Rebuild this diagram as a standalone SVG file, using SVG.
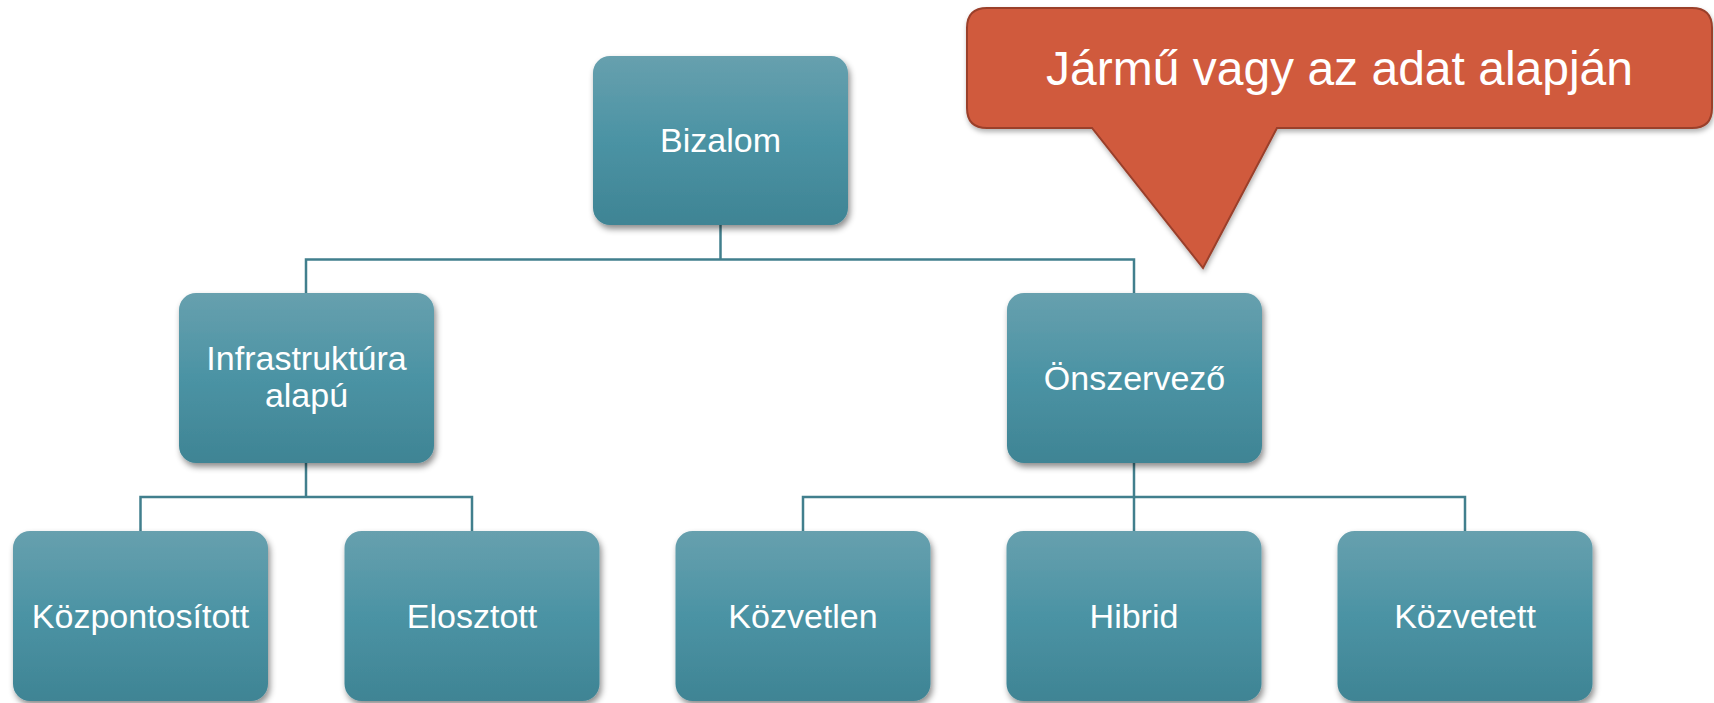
<svg xmlns="http://www.w3.org/2000/svg" width="1714" height="703" viewBox="0 0 1714 703">
  <defs>
    <linearGradient id="boxGrad" x1="0" y1="0" x2="0" y2="1">
      <stop offset="0" stop-color="#67A0AE"/>
      <stop offset="0.5" stop-color="#4B93A4"/>
      <stop offset="1" stop-color="#3F8494"/>
    </linearGradient>
    <filter id="shadow" x="-10%" y="-10%" width="125%" height="130%">
      <feDropShadow dx="2" dy="4" stdDeviation="3" flood-color="#000" flood-opacity="0.45"/>
    </filter>
    <filter id="shadow2" x="-5%" y="-10%" width="115%" height="130%">
      <feDropShadow dx="1" dy="3" stdDeviation="2.5" flood-color="#000" flood-opacity="0.3"/>
    </filter>
  </defs>
  <style>
    .box { fill: url(#boxGrad); filter: url(#shadow); }
    .lbl { font-family: "Liberation Sans", Arial, sans-serif; font-size: 34px; fill: #ffffff; text-anchor: middle; }
    .conn { fill: none; stroke: #417F8D; stroke-width: 2.5; }
    .callout { fill: #D05A3E; stroke: #9A3F2B; stroke-width: 2; filter: url(#shadow2); }
    .ctext { font-family: "Liberation Sans", Arial, sans-serif; font-size: 48px; fill: #ffffff; text-anchor: middle; }
  </style>
  <rect width="1714" height="703" fill="#ffffff"/>

  <g id="connectors">
    <path class="conn" d="M720.5 225 V259.5"/>
    <path class="conn" d="M306 293 V259.5 H1134 V293"/>
    <path class="conn" d="M306 463 V497"/>
    <path class="conn" d="M140.5 531 V497 H472 V531"/>
    <path class="conn" d="M1134 463 V531"/>
    <path class="conn" d="M803 531 V497 H1465 V531"/>
  </g>

  <g id="node-bizalom">
    <rect class="box" x="593" y="56" width="255" height="169" rx="17"/>
    <text class="lbl" x="720.5" y="152">Bizalom</text>
  </g>
  <g id="node-infrastruktura">
    <rect class="box" x="179" y="293" width="255" height="170" rx="17"/>
    <text class="lbl" x="306.5" y="370">Infrastruktúra</text>
    <text class="lbl" x="306.5" y="407">alapú</text>
  </g>
  <g id="node-onszervezo">
    <rect class="box" x="1007" y="293" width="255" height="170" rx="17"/>
    <text class="lbl" x="1134.5" y="390">Önszervező</text>
  </g>
  <g id="node-kozpontositott">
    <rect class="box" x="13" y="531" width="255" height="170" rx="17"/>
    <text class="lbl" x="140.5" y="628">Központosított</text>
  </g>
  <g id="node-elosztott">
    <rect class="box" x="344.5" y="531" width="255" height="170" rx="17"/>
    <text class="lbl" x="472" y="628">Elosztott</text>
  </g>
  <g id="node-kozvetlen">
    <rect class="box" x="675.5" y="531" width="255" height="170" rx="17"/>
    <text class="lbl" x="803" y="628">Közvetlen</text>
  </g>
  <g id="node-hibrid">
    <rect class="box" x="1006.5" y="531" width="255" height="170" rx="17"/>
    <text class="lbl" x="1134" y="628">Hibrid</text>
  </g>
  <g id="node-kozvetett">
    <rect class="box" x="1337.5" y="531" width="255" height="170" rx="17"/>
    <text class="lbl" x="1465" y="628">Közvetett</text>
  </g>

  <g id="callout">
    <path class="callout" d="M987 8 H1692 Q1712 8 1712 28 V108 Q1712 128 1692 128 H1277 L1203 268 L1092 128 H987 Q967 128 967 108 V28 Q967 8 987 8 Z"/>
    <text class="ctext" x="1339.5" y="85">Jármű vagy az adat alapján</text>
  </g>
</svg>
